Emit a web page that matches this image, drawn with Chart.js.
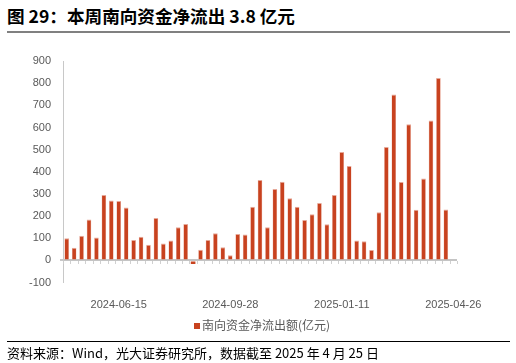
<!DOCTYPE html>
<html>
<head>
<meta charset="utf-8">
<script src="https://cdn.jsdelivr.net/npm/chart.js@4.4.1/dist/chart.umd.min.js"></script>
<style>
  body { margin: 0; background: #fff; width: 516px; height: 363px; position: relative; overflow: hidden;
         font-family: "Noto Sans CJK SC", "Liberation Sans", sans-serif; }
  #title { position: absolute; left: 7px; top: 3px; font-size: 17.6px; font-weight: bold; color: #000; white-space: nowrap; }
  #tline { position: absolute; left: 7px; top: 31px; width: 503px; height: 2px; background: #808080; }
  #box { position: absolute; left: 0; top: 40px; width: 516px; height: 281px; }
  #legend { position: absolute; top: 316px; left: 4px; width: 516px; text-align: center; font-size: 12px; color: #595959; }
  #legend span.sw { display: inline-block; width: 6px; height: 6px; background: #c8421f; margin-right: 2px; vertical-align: 1px; }
  #sline { position: absolute; left: 7px; top: 341px; width: 503px; height: 1px; background: #000; }
  #source { position: absolute; left: 7px; top: 343px; font-size: 13px; color: #000; white-space: nowrap; }
</style>
</head>
<body>
<div id="title">图 29：本周南向资金净流出 3.8 亿元</div>
<div id="tline"></div>
<div id="box"><canvas id="flowChart"></canvas></div>
<div id="legend"><span class="sw"></span>南向资金净流出额(亿元)</div>
<div id="sline"></div>
<div id="source">资料来源：Wind，光大证券研究所，数据截至 2025 年 4 月 25 日</div>
<script>
// weekly dates, 2024-04-27 .. 2025-04-26
const weeks = [
  '2024-04-27', '2024-05-04', '2024-05-11', '2024-05-18', '2024-05-25', '2024-06-01', '2024-06-08', '2024-06-15',
  '2024-06-22', '2024-06-29', '2024-07-06', '2024-07-13', '2024-07-20', '2024-07-27', '2024-08-03', '2024-08-10',
  '2024-08-17', '2024-08-24', '2024-08-31', '2024-09-07', '2024-09-14', '2024-09-21', '2024-09-28', '2024-10-05',
  '2024-10-12', '2024-10-19', '2024-10-26', '2024-11-02', '2024-11-09', '2024-11-16', '2024-11-23', '2024-11-30',
  '2024-12-07', '2024-12-14', '2024-12-21', '2024-12-28', '2025-01-04', '2025-01-11', '2025-01-18', '2025-01-25',
  '2025-02-01', '2025-02-08', '2025-02-15', '2025-02-22', '2025-03-01', '2025-03-08', '2025-03-15', '2025-03-22',
  '2025-03-29', '2025-04-05', '2025-04-12', '2025-04-19', '2025-04-26'
];
// 南向资金净流出额(亿元)
const netOutflow = [
  100, 57, 111, 185, 104, 295, 271, 268, 239, 92, 107, 71, 191, 77, 90, 150,
  164, -16, 48, 92, 123, 59, 23, 119, 117, 242, 363, 150, 322, 355, 281, 242,
  182, 209, 259, 163, 295, 489, 426, 90, 87, 47, 217, 512, 749, 354, 615, 229,
  370, 632, 823, 230, 3.8
];
const shownLabels = ['2024-06-15', '2024-09-28', '2025-01-11', '2025-04-26'];
const yMin = -100, yMax = 900, yStep = 100;

const tickFont = { family: '"Liberation Sans", Arial, sans-serif', size: 11 };

// little tick marks under the zero line, between the weeks
const zeroTicks = {
  id: 'zeroTicks',
  beforeDatasetsDraw(chart) {
    const { ctx, scales: { x, y } } = chart;
    const y0 = Math.round(y.getPixelForValue(0)) + 1;
    const w = (x.right - x.left) / weeks.length;
    ctx.save();
    ctx.strokeStyle = '#d0d0d0';
    ctx.lineWidth = 1;
    ctx.beginPath();
    for (let i = 0; i <= weeks.length; i++) {
      const px = Math.round(x.left + i * w) + 0.5;
      ctx.moveTo(px, y0);
      ctx.lineTo(px, y0 + 3);
    }
    ctx.stroke();
    ctx.restore();
  }
};

new Chart(document.getElementById('flowChart'), {
  type: 'bar',
  data: {
    labels: weeks,
    datasets: [{
      label: '南向资金净流出额(亿元)',
      data: netOutflow,
      backgroundColor: '#c8421f',
      borderColor: '#e6a898',
      borderWidth: (c) => (c.raw < 0 ? 0 : { left: 0.5, right: 0.5, top: 1, bottom: 0 }),
      borderSkipped: false,
      barPercentage: 0.62,
      categoryPercentage: 1.0
    }]
  },
  options: {
    responsive: true,
    maintainAspectRatio: false,
    animation: false,
    layout: { padding: { left: 0, right: 59, top: 21, bottom: 0 } },
    plugins: {
      legend: { display: false },
      tooltip: { enabled: false }
    },
    scales: {
      x: {
        grid: { display: false },
        border: { display: false },
        afterFit: (s) => { s.height = 38.4; },
        ticks: {
          autoSkip: false,
          maxRotation: 0,
          padding: 8,
          color: '#595959',
          font: tickFont,
          callback: function (v) {
            const lab = this.getLabelForValue(v);
            return shownLabels.includes(lab) ? lab : '';
          }
        }
      },
      y: {
        min: yMin,
        max: yMax,
        afterFit: (s) => { s.width = 63; },
        border: { display: true, color: '#c8c8c8', width: 1 },
        grid: {
          drawOnChartArea: true,
          color: (c) => (c.tick && c.tick.value === 0 ? '#c4c4c4' : 'rgba(0,0,0,0)'),
          lineWidth: (c) => (c.tick && c.tick.value === 0 ? 2 : 0),
          tickColor: '#c8c8c8',
          tickLength: 3
        },
        ticks: {
          stepSize: yStep,
          padding: 9,
          color: '#595959',
          font: tickFont
        }
      }
    }
  },
  plugins: [zeroTicks]
});
</script>
</body>
</html>
